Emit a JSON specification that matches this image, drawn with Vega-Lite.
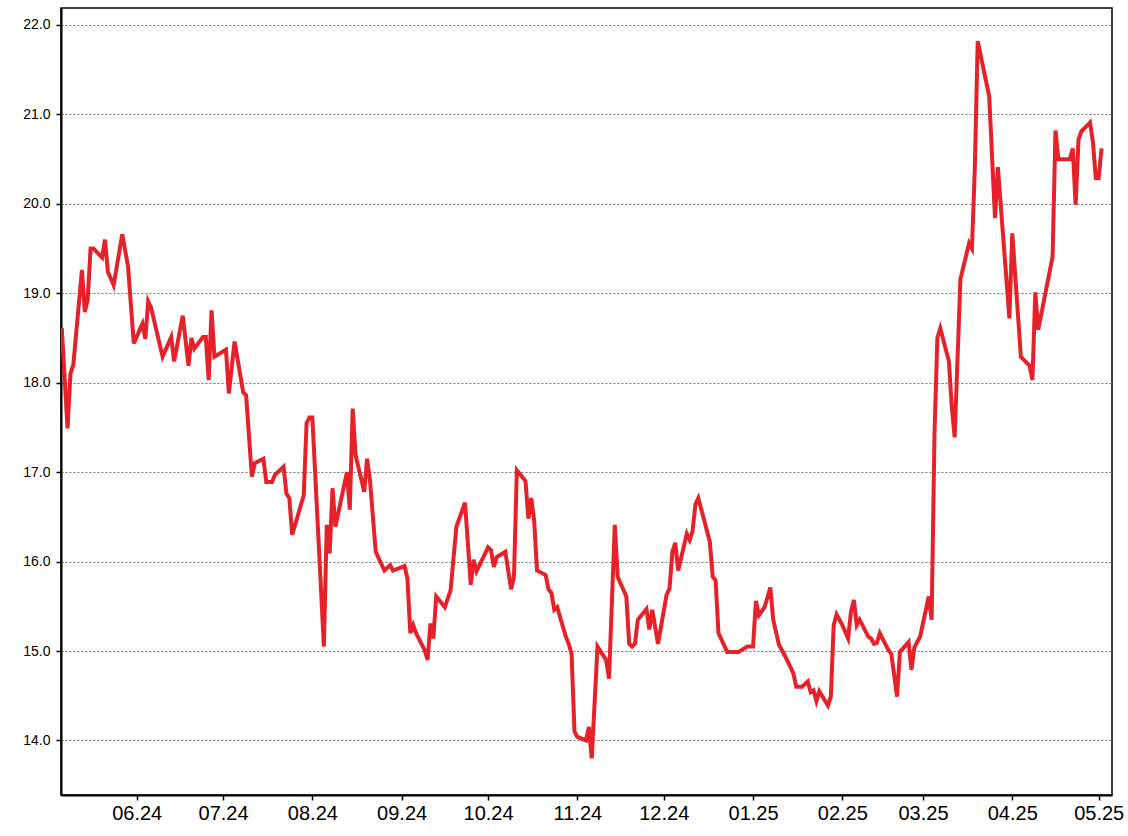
{
  "$schema": "https://vega.github.io/schema/vega-lite/v6.json",
  "width": 1051,
  "height": 787,
  "autosize": {"type": "none"},
  "padding": {"left": 61, "top": 8, "right": 16, "bottom": 41},
  "background": "white",
  "config": {"view": {"stroke": "#000", "strokeWidth": 1.5}, "font": "Liberation Sans"},
  "data": {"values": [
    {"date": "2024-05-06", "v": 18.61}, {"date": "2024-05-08", "v": 17.49}, {"date": "2024-05-09", "v": 18.10}, {"date": "2024-05-10", "v": 18.20},
    {"date": "2024-05-13", "v": 19.26}, {"date": "2024-05-14", "v": 18.79}, {"date": "2024-05-15", "v": 18.93}, {"date": "2024-05-16", "v": 19.50},
    {"date": "2024-05-17", "v": 19.50}, {"date": "2024-05-20", "v": 19.40}, {"date": "2024-05-21", "v": 19.60}, {"date": "2024-05-22", "v": 19.24},
    {"date": "2024-05-24", "v": 19.09}, {"date": "2024-05-27", "v": 19.66}, {"date": "2024-05-29", "v": 19.30}, {"date": "2024-05-31", "v": 18.44},
    {"date": "2024-06-03", "v": 18.66}, {"date": "2024-06-04", "v": 18.49}, {"date": "2024-06-05", "v": 18.91}, {"date": "2024-06-06", "v": 18.84},
    {"date": "2024-06-10", "v": 18.29}, {"date": "2024-06-13", "v": 18.51}, {"date": "2024-06-14", "v": 18.24}, {"date": "2024-06-17", "v": 18.75},
    {"date": "2024-06-19", "v": 18.19}, {"date": "2024-06-20", "v": 18.50}, {"date": "2024-06-21", "v": 18.38}, {"date": "2024-06-24", "v": 18.51},
    {"date": "2024-06-25", "v": 18.51}, {"date": "2024-06-26", "v": 18.03}, {"date": "2024-06-27", "v": 18.81}, {"date": "2024-06-28", "v": 18.29},
    {"date": "2024-07-02", "v": 18.37}, {"date": "2024-07-03", "v": 17.88}, {"date": "2024-07-05", "v": 18.46}, {"date": "2024-07-08", "v": 17.89},
    {"date": "2024-07-09", "v": 17.86}, {"date": "2024-07-11", "v": 16.95}, {"date": "2024-07-12", "v": 17.10}, {"date": "2024-07-15", "v": 17.15},
    {"date": "2024-07-16", "v": 16.89}, {"date": "2024-07-18", "v": 16.89}, {"date": "2024-07-19", "v": 16.97}, {"date": "2024-07-22", "v": 17.06},
    {"date": "2024-07-23", "v": 16.76}, {"date": "2024-07-24", "v": 16.71}, {"date": "2024-07-25", "v": 16.30}, {"date": "2024-07-29", "v": 16.74},
    {"date": "2024-07-30", "v": 17.55}, {"date": "2024-07-31", "v": 17.61}, {"date": "2024-08-01", "v": 17.61}, {"date": "2024-08-05", "v": 15.05},
    {"date": "2024-08-06", "v": 16.41}, {"date": "2024-08-07", "v": 16.09}, {"date": "2024-08-08", "v": 16.82}, {"date": "2024-08-09", "v": 16.39},
    {"date": "2024-08-13", "v": 17.00}, {"date": "2024-08-14", "v": 16.58}, {"date": "2024-08-15", "v": 17.71}, {"date": "2024-08-16", "v": 17.19},
    {"date": "2024-08-19", "v": 16.78}, {"date": "2024-08-20", "v": 17.15}, {"date": "2024-08-21", "v": 16.91}, {"date": "2024-08-23", "v": 16.11},
    {"date": "2024-08-26", "v": 15.90}, {"date": "2024-08-28", "v": 15.96}, {"date": "2024-08-29", "v": 15.90}, {"date": "2024-09-02", "v": 15.95},
    {"date": "2024-09-03", "v": 15.81}, {"date": "2024-09-04", "v": 15.20}, {"date": "2024-09-05", "v": 15.29}, {"date": "2024-09-06", "v": 15.20},
    {"date": "2024-09-09", "v": 15.01}, {"date": "2024-09-10", "v": 14.90}, {"date": "2024-09-11", "v": 15.31}, {"date": "2024-09-12", "v": 15.14},
    {"date": "2024-09-13", "v": 15.61}, {"date": "2024-09-16", "v": 15.49}, {"date": "2024-09-18", "v": 15.68}, {"date": "2024-09-20", "v": 16.39},
    {"date": "2024-09-23", "v": 16.66}, {"date": "2024-09-25", "v": 15.74}, {"date": "2024-09-26", "v": 16.02}, {"date": "2024-09-27", "v": 15.89},
    {"date": "2024-10-01", "v": 16.16}, {"date": "2024-10-02", "v": 16.13}, {"date": "2024-10-03", "v": 15.94}, {"date": "2024-10-04", "v": 16.05},
    {"date": "2024-10-07", "v": 16.11}, {"date": "2024-10-09", "v": 15.69}, {"date": "2024-10-10", "v": 15.83}, {"date": "2024-10-11", "v": 17.02},
    {"date": "2024-10-14", "v": 16.90}, {"date": "2024-10-15", "v": 16.48}, {"date": "2024-10-16", "v": 16.71}, {"date": "2024-10-17", "v": 16.46},
    {"date": "2024-10-18", "v": 15.90}, {"date": "2024-10-21", "v": 15.85}, {"date": "2024-10-22", "v": 15.69}, {"date": "2024-10-23", "v": 15.65},
    {"date": "2024-10-24", "v": 15.46}, {"date": "2024-10-25", "v": 15.49}, {"date": "2024-10-28", "v": 15.16}, {"date": "2024-10-29", "v": 15.08},
    {"date": "2024-10-30", "v": 14.97}, {"date": "2024-10-31", "v": 14.10}, {"date": "2024-11-01", "v": 14.04}, {"date": "2024-11-04", "v": 14.00},
    {"date": "2024-11-05", "v": 14.15}, {"date": "2024-11-06", "v": 13.80}, {"date": "2024-11-08", "v": 15.05}, {"date": "2024-11-11", "v": 14.90},
    {"date": "2024-11-12", "v": 14.69}, {"date": "2024-11-14", "v": 16.41}, {"date": "2024-11-15", "v": 15.83}, {"date": "2024-11-18", "v": 15.61},
    {"date": "2024-11-19", "v": 15.08}, {"date": "2024-11-20", "v": 15.05}, {"date": "2024-11-21", "v": 15.08}, {"date": "2024-11-22", "v": 15.35},
    {"date": "2024-11-25", "v": 15.47}, {"date": "2024-11-26", "v": 15.24}, {"date": "2024-11-27", "v": 15.46}, {"date": "2024-11-29", "v": 15.08},
    {"date": "2024-12-02", "v": 15.63}, {"date": "2024-12-03", "v": 15.70}, {"date": "2024-12-04", "v": 16.11}, {"date": "2024-12-05", "v": 16.21},
    {"date": "2024-12-06", "v": 15.90}, {"date": "2024-12-09", "v": 16.31}, {"date": "2024-12-10", "v": 16.24}, {"date": "2024-12-11", "v": 16.34},
    {"date": "2024-12-12", "v": 16.64}, {"date": "2024-12-13", "v": 16.71}, {"date": "2024-12-17", "v": 16.22}, {"date": "2024-12-18", "v": 15.83},
    {"date": "2024-12-19", "v": 15.79}, {"date": "2024-12-20", "v": 15.20}, {"date": "2024-12-23", "v": 14.99}, {"date": "2024-12-27", "v": 14.99},
    {"date": "2024-12-30", "v": 15.05}, {"date": "2025-01-01", "v": 15.05}, {"date": "2025-01-02", "v": 15.56}, {"date": "2025-01-03", "v": 15.40},
    {"date": "2025-01-05", "v": 15.49}, {"date": "2025-01-07", "v": 15.71}, {"date": "2025-01-08", "v": 15.35}, {"date": "2025-01-10", "v": 15.07},
    {"date": "2025-01-12", "v": 14.95}, {"date": "2025-01-14", "v": 14.82}, {"date": "2025-01-15", "v": 14.75}, {"date": "2025-01-16", "v": 14.60},
    {"date": "2025-01-18", "v": 14.60}, {"date": "2025-01-20", "v": 14.66}, {"date": "2025-01-21", "v": 14.54}, {"date": "2025-01-22", "v": 14.56},
    {"date": "2025-01-23", "v": 14.44}, {"date": "2025-01-24", "v": 14.55}, {"date": "2025-01-27", "v": 14.39}, {"date": "2025-01-28", "v": 14.49},
    {"date": "2025-01-29", "v": 15.29}, {"date": "2025-01-30", "v": 15.41}, {"date": "2025-02-01", "v": 15.29}, {"date": "2025-02-03", "v": 15.14},
    {"date": "2025-02-04", "v": 15.44}, {"date": "2025-02-05", "v": 15.57}, {"date": "2025-02-06", "v": 15.29}, {"date": "2025-02-07", "v": 15.35},
    {"date": "2025-02-10", "v": 15.16}, {"date": "2025-02-11", "v": 15.14}, {"date": "2025-02-12", "v": 15.08}, {"date": "2025-02-13", "v": 15.09},
    {"date": "2025-02-14", "v": 15.20}, {"date": "2025-02-17", "v": 15.01}, {"date": "2025-02-18", "v": 14.97}, {"date": "2025-02-20", "v": 14.49},
    {"date": "2025-02-21", "v": 14.99}, {"date": "2025-02-24", "v": 15.10}, {"date": "2025-02-25", "v": 14.79}, {"date": "2025-02-26", "v": 15.04},
    {"date": "2025-02-28", "v": 15.16}, {"date": "2025-03-03", "v": 15.61}, {"date": "2025-03-04", "v": 15.35}, {"date": "2025-03-05", "v": 17.44},
    {"date": "2025-03-06", "v": 18.50}, {"date": "2025-03-07", "v": 18.61}, {"date": "2025-03-10", "v": 18.24}, {"date": "2025-03-11", "v": 17.73},
    {"date": "2025-03-12", "v": 17.39}, {"date": "2025-03-14", "v": 19.16}, {"date": "2025-03-17", "v": 19.56}, {"date": "2025-03-18", "v": 19.50},
    {"date": "2025-03-19", "v": 20.40}, {"date": "2025-03-20", "v": 21.82}, {"date": "2025-03-24", "v": 21.20}, {"date": "2025-03-26", "v": 19.84},
    {"date": "2025-03-27", "v": 20.41}, {"date": "2025-03-31", "v": 18.72}, {"date": "2025-04-01", "v": 19.67}, {"date": "2025-04-04", "v": 18.29},
    {"date": "2025-04-07", "v": 18.19}, {"date": "2025-04-08", "v": 18.03}, {"date": "2025-04-09", "v": 19.01}, {"date": "2025-04-10", "v": 18.59},
    {"date": "2025-04-15", "v": 19.41}, {"date": "2025-04-16", "v": 20.82}, {"date": "2025-04-17", "v": 20.50}, {"date": "2025-04-21", "v": 20.50},
    {"date": "2025-04-22", "v": 20.62}, {"date": "2025-04-23", "v": 19.99}, {"date": "2025-04-24", "v": 20.72}, {"date": "2025-04-25", "v": 20.81},
    {"date": "2025-04-28", "v": 20.91}, {"date": "2025-04-29", "v": 20.69}, {"date": "2025-04-30", "v": 20.29}, {"date": "2025-05-01", "v": 20.29},
    {"date": "2025-05-02", "v": 20.62}
  ]},
  "mark": {"type": "line", "color": "#e62129", "strokeWidth": 4, "clip": true},
  "encoding": {
    "x": {
      "field": "date", "type": "temporal",
      "scale": {"type": "utc", "domain": [
        {"year": 2024, "month": 5, "date": 5, "hours": 17, "minutes": 30, "utc": true},
        {"year": 2025, "month": 5, "date": 5, "hours": 15, "utc": true}
      ]},
      "axis": {
        "title": null, "grid": false,
        "values": [
          {"year": 2024, "month": 6, "date": 1, "utc": true}, {"year": 2024, "month": 7, "date": 1, "utc": true},
          {"year": 2024, "month": 8, "date": 1, "utc": true}, {"year": 2024, "month": 9, "date": 1, "utc": true},
          {"year": 2024, "month": 10, "date": 1, "utc": true}, {"year": 2024, "month": 11, "date": 1, "utc": true},
          {"year": 2024, "month": 12, "date": 1, "utc": true}, {"year": 2025, "month": 1, "date": 1, "utc": true},
          {"year": 2025, "month": 2, "date": 1, "utc": true}, {"year": 2025, "month": 3, "date": 1, "utc": true},
          {"year": 2025, "month": 4, "date": 1, "utc": true}, {"year": 2025, "month": 5, "date": 1, "utc": true}
        ],
        "labelExpr": "utcFormat(datum.value, '%m.%y')",
        "labelFontSize": 20, "labelColor": "#000", "labelPadding": 3, "labelFlush": false, "labelOverlap": false,
        "tickSize": 5, "tickColor": "#000", "tickWidth": 1.5,
        "domainColor": "#000", "domainWidth": 2
      }
    },
    "y": {
      "field": "v", "type": "quantitative",
      "scale": {"domain": [13.39, 22.19], "zero": false, "nice": false},
      "axis": {
        "title": null,
        "values": [14, 15, 16, 17, 18, 19, 20, 21, 22],
        "format": ".1f",
        "labelFontSize": 14, "labelColor": "#000", "labelPadding": 6,
        "tickSize": 5, "tickColor": "#000", "tickWidth": 1.5,
        "domainColor": "#000", "domainWidth": 2,
        "grid": true, "gridColor": "#707070", "gridDash": [2, 2], "gridWidth": 1
      }
    }
  }
}
